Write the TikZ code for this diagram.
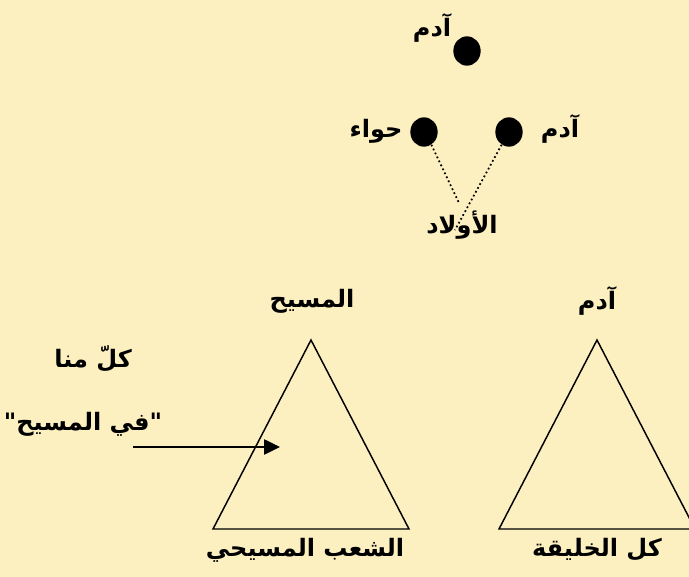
\documentclass[tikz,border=0pt]{standalone}
\usepackage{fontspec}
\newfontfamily\arabicfont[Script=Arabic]{DejaVu Sans}
\TeXXeTstate=1
\usetikzlibrary{arrows.meta}
\definecolor{paper}{RGB}{252,240,193}
\tikzset{
  person/.style={ellipse,fill=black,minimum width=20.5pt,minimum height=22pt,inner sep=0pt},
  arlabel/.style={font=\arabicfont\bfseries\fontsize{18}{21}\selectfont,inner sep=0pt},
  lineage/.style={line width=1.3pt,dotted},
  pyramid/.style={line width=1.1pt,black,line join=miter},
  pointer/.style={line width=1.1pt,-{Triangle[length=12pt,width=11.5pt]}}
}
\usetikzlibrary{shapes.geometric}

\begin{document}
\begin{tikzpicture}[x=0.75pt,y=-0.75pt]
  \useasboundingbox (0,0) rectangle (689,577);
  \fill[paper] (0,0) rectangle (689,577);
  % family at the top
  \node[person] (adamtop) at (467,51) {};
  \node[arlabel] (adamtoplbl) at (432,28) {\beginR آدم\endR};
  \node[person] (eve) at (424,132) {};
  \node[arlabel] (evelbl) at (376,131) {\beginR حواء\endR};
  \node[person] (adam) at (509,132) {};
  \node[arlabel] (adamlbl) at (560,129) {\beginR آدم\endR};
  \node[arlabel] (children) at (462,225) {\beginR الأولاد\endR};
  \coordinate (evefoot) at (459,203);
  \coordinate (adamfoot) at (455,230);
  \draw[lineage] (eve.-60) -- (evefoot);
  \draw[lineage] (adam.-120) -- (adamfoot);
  % two triangles
  \coordinate (christtop) at (311,340);
  \coordinate (christl) at (213,529);
  \coordinate (christr) at (409,529);
  \draw[pyramid] (christtop) -- (christl) -- (christr) -- cycle;
  \node[arlabel] (christ) at (312,301) {\beginR المسيح\endR};
  \node[arlabel] (church) at (305,550) {\beginR الشعب المسيحي\endR};
  \coordinate (adamtri) at (597,340);
  \coordinate (adaml) at (499,529);
  \coordinate (adamr) at (695,529);
  \draw[pyramid] (adamtri) -- (adaml) -- (adamr) -- cycle;
  \node[arlabel] (adamhead) at (597,301) {\beginR آدم\endR};
  \node[arlabel] (creation) at (597,550) {\beginR كل الخليقة\endR};
  % pointer into the triangle
  \node[arlabel] (eachofus) at (93,359) {\beginR كلّ منا\endR};
  \node[arlabel] (inchrist) at (83,424) {\beginR "في المسيح"\endR};
  \coordinate (ptrstart) at (133,447);
  \coordinate (ptrend) at (280,447);
  \draw[pointer] (ptrstart) -- (ptrend);
\end{tikzpicture}
\end{document}
